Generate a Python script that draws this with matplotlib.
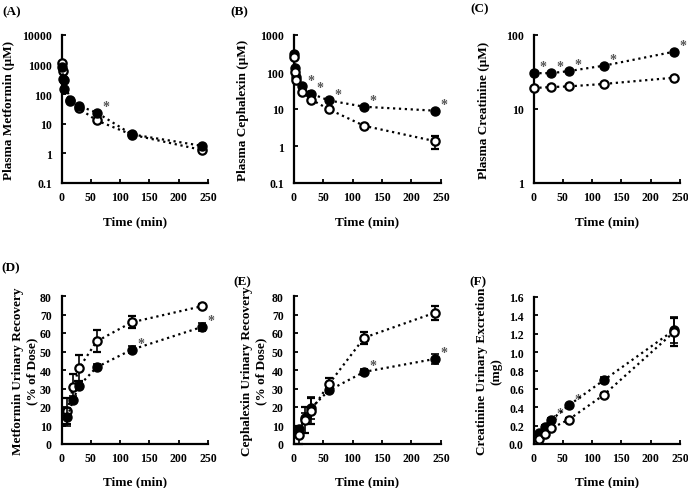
import matplotlib.pyplot as plt

plt.rcParams['font.family'] = 'Liberation Serif'
plt.rcParams['font.weight'] = 'bold'
plt.rcParams['axes.labelweight'] = 'bold'

# plasma sampling times (min)
t_plasma = [1, 3, 5, 15, 30, 60, 120, 240]
t_creat_plasma = [0, 30, 60, 120, 240]
t_urine = [10, 20, 30, 60, 120, 240]

# (A) plasma metformin (uM)
met_plasma_ctrl = [1100, 600, 300, 60, 33, 13, 4.3, 1.3]
met_plasma_trt = [800, 330, 150, 62, 40, 24, 4.4, 1.8]

# (B) plasma cephalexin (uM)
cex_plasma_ctrl = [250, 100, 60, 29.5, 18, 9.8, 3.5, 1.35]
cex_plasma_ctrl_err = [0, 0, 0, 0, 0, 0, 0, 0.5]
cex_plasma_trt = [310, 125, 72, 41, 26, 17, 11.5, 9]

# (C) plasma creatinine (uM)
cre_plasma_ctrl = [19.2, 19.8, 20.2, 21.8, 26.5]
cre_plasma_trt = [30.5, 30.5, 32.5, 38.5, 59.5]

# (D) metformin urinary recovery (% of dose)
met_urine_ctrl = [18, 31, 41, 55.5, 65.8, 74.5]
met_urine_ctrl_err = [7, 7, 7, 6, 3.3, 1]
met_urine_trt = [14.5, 24, 31.5, 41.5, 51, 63.3]
met_urine_trt_err = [5, 2, 2, 1.5, 2, 2]

# (E) cephalexin urinary recovery (% of dose)
cex_urine_ctrl = [5, 13, 18, 32.4, 57.5, 71]
cex_urine_ctrl_err = [5, 7, 7, 3.5, 3.2, 3.8]
cex_urine_trt = [8, 14, 19.5, 29, 39, 46]
cex_urine_trt_err = [2, 3, 6, 1.5, 1.5, 2.5]

# (F) creatinine urinary excretion (mg)
cre_urine_ctrl = [0.055, 0.11, 0.17, 0.265, 0.535, 1.22]
cre_urine_ctrl_err = [0.01, 0.02, 0.02, 0.02, 0.02, 0.15]
cre_urine_trt = [0.12, 0.19, 0.26, 0.42, 0.695, 1.24]
cre_urine_trt_err = [0.01, 0.02, 0.02, 0.02, 0.03, 0.14]

log_ticks_a = [0.1, 1, 10, 100, 1000, 10000]
log_ticks_b = [0.1, 1, 10, 100, 1000]
log_ticks_c = [1, 10, 100]
x_ticks = [0, 50, 100, 150, 200, 250]

W, H = 688, 489
fig = plt.figure(figsize=(W / 100, H / 100), dpi=100)


def make_ax(x0, x1, ytop, ybot):
    return fig.add_axes([x0 / W, 1 - ybot / H, (x1 - x0) / W, (ybot - ytop) / H])


def style(ax, ylabel, label_x, xlab_y):
    for s in ['top', 'right']:
        ax.spines[s].set_visible(False)
    for s in ['left', 'bottom']:
        ax.spines[s].set_linewidth(1.6)
    ax.tick_params(direction='in', width=1.3, length=3, labelsize=8.5)
    ax.tick_params(axis='y', pad=7)
    ax.tick_params(axis='x', pad=6)
    ax.minorticks_off()
    ax.set_xlim(0, 250)
    ax.set_xticks(x_ticks)
    ax.set_xlabel('Time (min)', fontsize=9.5, fontweight='bold')
    ax.xaxis.set_label_coords(0.5, xlab_y)
    ax.set_ylabel(ylabel, fontsize=9.5, fontweight='bold', linespacing=1.25)
    ax.yaxis.set_label_coords(label_x, 0.5)
    for lab in ax.get_xticklabels() + ax.get_yticklabels():
        lab.set_fontweight('bold')


def series(ax, t, ctrl, trt, ctrl_err=None, trt_err=None, stars=(), open_top=True):
    zf, zo = (3, 4) if open_top else (4, 3)
    ax.errorbar(t, trt, yerr=trt_err, fmt='o', ls=':', color='black', lw=1.6,
                ms=6.5, mfc='black', mec='black', capsize=3, elinewidth=1.2,
                capthick=1.2, clip_on=False, zorder=zf)
    ax.errorbar(t, ctrl, yerr=ctrl_err, fmt='o', ls=':', color='black', lw=1.6,
                ms=6, mfc='white', mec='black', mew=1.6, capsize=3,
                elinewidth=1.2, capthick=1.2, clip_on=False, zorder=zo)
    for i in stars:
        ax.annotate('*', (t[i], trt[i]), xytext=(4, 2), textcoords='offset points',
                    fontsize=10, color='#555555', fontweight='bold')


# top row
axA = make_ax(61.5, 208, 36, 184)
axA.set_yscale('log')
axA.set_ylim(0.1, 10000)
axA.set_yticks(log_ticks_a)
axA.set_yticklabels(['0.1', '1', '10', '100', '1000', '10000'])
series(axA, t_plasma, met_plasma_ctrl, met_plasma_trt, stars=[5], open_top=False)
style(axA, 'Plasma Metformin (μM)', -0.32, -0.22)

axB = make_ax(293.5, 441, 36, 184)
axB.set_yscale('log')
axB.set_ylim(0.1, 1000)
axB.set_yticks(log_ticks_b)
axB.set_yticklabels(['0.1', '1', '10', '100', '1000'])
series(axB, t_plasma, cex_plasma_ctrl, cex_plasma_trt, ctrl_err=cex_plasma_ctrl_err,
       stars=[3, 4, 5, 6, 7])
style(axB, 'Plasma Cephalexin (μM)', -0.30, -0.22)

axC = make_ax(533.5, 680, 36, 184)
axC.set_yscale('log')
axC.set_ylim(1, 100)
axC.set_yticks(log_ticks_c)
axC.set_yticklabels(['1', '10', '100'])
series(axC, t_creat_plasma, cre_plasma_ctrl, cre_plasma_trt, stars=[0, 1, 2, 3, 4])
style(axC, 'Plasma Creatinine (μM)', -0.30, -0.22)

# bottom row
axD = make_ax(61.5, 208, 297, 445)
axD.set_ylim(0, 80)
axD.set_yticks(range(0, 81, 10))
series(axD, t_urine, met_urine_ctrl, met_urine_trt, met_urine_ctrl_err,
       met_urine_trt_err, stars=[4, 5], open_top=False)
style(axD, 'Metformin Urinary Recovery\n(% of Dose)', -0.16, -0.21)

axE = make_ax(293.5, 441, 297, 445)
axE.set_ylim(0, 80)
axE.set_yticks(range(0, 81, 10))
series(axE, t_urine, cex_urine_ctrl, cex_urine_trt, cex_urine_ctrl_err,
       cex_urine_trt_err, stars=[4, 5])
style(axE, 'Cephalexin Urinary Recovery\n(% of Dose)', -0.18, -0.21)

axF = make_ax(533.5, 680, 298, 445)
axF.set_ylim(0, 1.6)
axF.set_yticks([0, 0.2, 0.4, 0.6, 0.8, 1.0, 1.2, 1.4, 1.6])
axF.set_yticklabels(['0.0', '0.2', '0.4', '0.6', '0.8', '1.0', '1.2', '1.4', '1.6'])
series(axF, t_urine, cre_urine_ctrl, cre_urine_trt, cre_urine_ctrl_err,
       cre_urine_trt_err, stars=[0, 1, 2, 3])
style(axF, 'Creatinine Urinary Excretion\n(mg)', -0.21, -0.21)

# panel letters
for lbl, px, py in [('(A)', 2, 12), ('(B)', 230, 12), ('(C)', 470, 9),
                    ('(D)', 1, 268), ('(E)', 233, 282), ('(F)', 469, 282)]:
    fig.text(px / W, 1 - py / H, lbl, fontsize=9.5, fontweight='bold', va='center')

fig.savefig('out.png', dpi=100)
